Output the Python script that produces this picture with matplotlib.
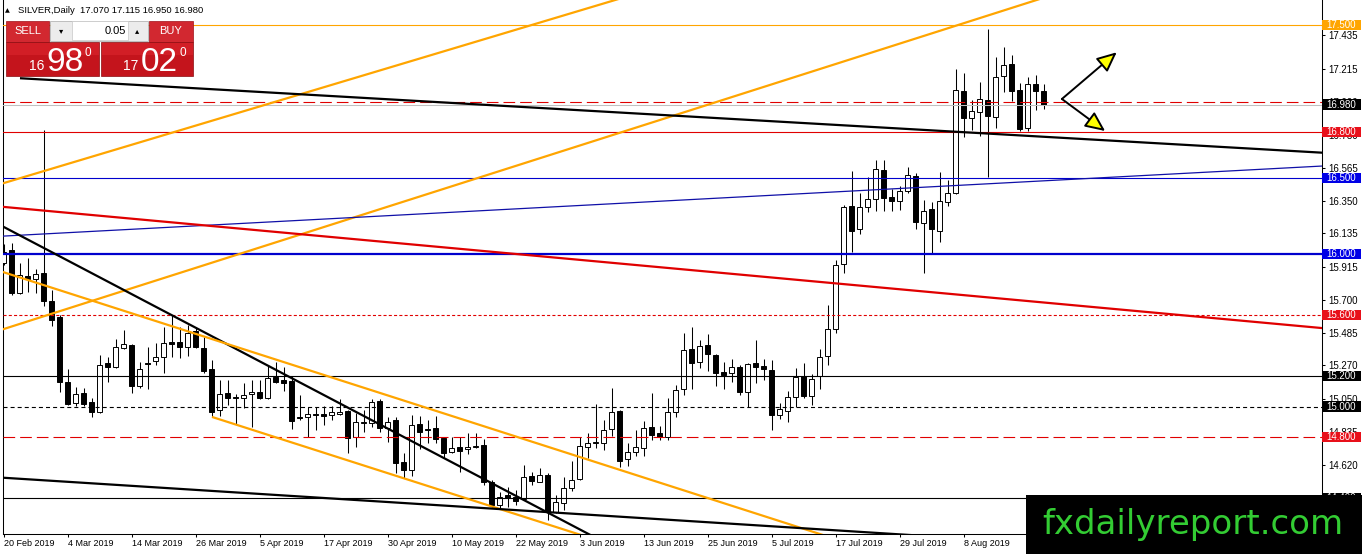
import matplotlib
matplotlib.use('Agg')
import matplotlib.pyplot as plt
import matplotlib.transforms as mtransforms
from matplotlib.patches import Rectangle
import numpy as np

plt.rcParams['font.family'] = ['Liberation Sans', 'DejaVu Sans']
plt.rcParams['lines.scale_dashes'] = False

# SILVER daily candles, 20 Feb 2019 -> 22 Aug 2019 (bar index = trading day)
opens = [15.941, 16.026, 15.744, 15.856, 15.836, 15.875, 15.692, 15.588, 15.161, 15.023,
         15.089, 15.030, 14.964, 15.286, 15.260, 15.384, 15.404, 15.135, 15.286, 15.299,
         15.325, 15.423, 15.423, 15.391, 15.496, 15.384, 15.247, 14.977, 15.089, 15.063,
         15.056, 15.082, 15.096, 15.056, 15.194, 15.174, 15.167, 14.932, 14.932, 14.951,
         14.951, 14.945, 14.948, 14.971, 14.800, 14.892, 14.892, 15.036, 14.859, 14.912,
         14.636, 14.584, 14.885, 14.853, 14.859, 14.794, 14.702, 14.735, 14.722, 14.735,
         14.748, 14.505, 14.354, 14.420, 14.407, 14.394, 14.545, 14.505, 14.551, 14.308,
         14.367, 14.466, 14.525, 14.735, 14.761, 14.761, 14.853, 14.971, 14.656, 14.702,
         14.728, 14.866, 14.826, 14.800, 14.964, 15.115, 15.378, 15.292, 15.404, 15.338,
         15.227, 15.220, 15.260, 15.096, 15.286, 15.266, 15.240, 14.945, 14.971, 15.063,
         15.200, 15.069, 15.200, 15.332, 15.509, 15.935, 16.315, 16.164, 16.308, 16.361,
         16.551, 16.374, 16.348, 16.413, 16.512, 16.203, 16.295, 16.151, 16.341, 16.400,
         17.069, 16.892, 16.931, 17.010, 16.898, 17.167, 17.246, 17.076, 16.826, 17.115,
         17.070]
highs = [16.065, 16.072, 15.941, 15.974, 15.902, 16.813, 15.764, 15.601, 15.247, 15.128,
         15.122, 15.056, 15.338, 15.325, 15.443, 15.502, 15.410, 15.292, 15.391, 15.417,
         15.522, 15.601, 15.522, 15.535, 15.522, 15.456, 15.305, 15.174, 15.174, 15.082,
         15.154, 15.174, 15.174, 15.273, 15.292, 15.260, 15.200, 15.076, 14.997, 14.997,
         15.004, 15.004, 15.050, 14.977, 14.958, 14.977, 15.050, 15.050, 14.932, 14.932,
         14.695, 14.945, 14.938, 14.912, 14.938, 14.800, 14.800, 14.800, 14.826, 14.826,
         14.787, 14.518, 14.440, 14.472, 14.453, 14.617, 14.571, 14.597, 14.564, 14.420,
         14.538, 14.643, 14.800, 14.826, 15.017, 14.912, 15.122, 14.977, 14.761, 14.846,
         14.905, 15.089, 14.872, 15.056, 15.141, 15.482, 15.522, 15.436, 15.476, 15.345,
         15.292, 15.312, 15.273, 15.286, 15.436, 15.312, 15.305, 15.023, 15.102, 15.253,
         15.286, 15.213, 15.378, 15.666, 15.961, 16.321, 16.545, 16.400, 16.505, 16.617,
         16.617, 16.427, 16.446, 16.571, 16.531, 16.354, 16.341, 16.538, 16.485, 17.214,
         17.187, 17.010, 17.128, 17.476, 17.292, 17.358, 17.305, 17.122, 17.161, 17.174,
         17.115]
lows = [15.928, 15.731, 15.738, 15.751, 15.744, 15.660, 15.528, 15.096, 15.010, 15.004,
        15.004, 14.932, 14.958, 15.161, 15.253, 15.378, 15.089, 15.122, 15.115, 15.273,
        15.220, 15.325, 15.318, 15.332, 15.384, 15.220, 14.932, 14.938, 15.010, 14.885,
        14.990, 14.866, 15.050, 15.050, 15.154, 15.102, 14.853, 14.912, 14.800, 14.846,
        14.879, 14.912, 14.945, 14.695, 14.735, 14.833, 14.866, 14.833, 14.767, 14.564,
        14.532, 14.545, 14.722, 14.761, 14.761, 14.663, 14.695, 14.571, 14.689, 14.728,
        14.485, 14.341, 14.335, 14.341, 14.354, 14.387, 14.485, 14.505, 14.256, 14.302,
        14.321, 14.446, 14.518, 14.663, 14.728, 14.715, 14.807, 14.604, 14.610, 14.676,
        14.676, 14.780, 14.780, 14.780, 14.932, 15.076, 15.115, 15.253, 15.233, 15.135,
        15.115, 15.161, 15.076, 14.997, 15.154, 15.174, 14.846, 14.918, 14.899, 14.997,
        15.056, 15.010, 15.115, 15.273, 15.482, 15.875, 16.013, 16.131, 16.276, 16.282,
        16.282, 16.282, 16.289, 16.400, 16.164, 15.875, 16.007, 16.079, 16.315, 16.395,
        16.767, 16.813, 16.774, 16.505, 16.826, 17.063, 17.004, 16.807, 16.807, 16.945,
        16.950]
closes = [16.013, 15.744, 15.862, 15.836, 15.869, 15.692, 15.568, 15.161, 15.017, 15.082,
          15.017, 14.964, 15.273, 15.260, 15.391, 15.410, 15.135, 15.247, 15.279, 15.325,
          15.417, 15.410, 15.391, 15.483, 15.391, 15.233, 14.964, 15.082, 15.056, 15.056,
          15.076, 15.096, 15.056, 15.187, 15.161, 15.154, 14.905, 14.925, 14.951, 14.945,
          14.938, 14.964, 14.964, 14.794, 14.899, 14.895, 15.030, 14.859, 14.899, 14.630,
          14.584, 14.879, 14.833, 14.846, 14.787, 14.695, 14.728, 14.709, 14.735, 14.738,
          14.505, 14.354, 14.407, 14.400, 14.381, 14.538, 14.512, 14.551, 14.308, 14.374,
          14.466, 14.518, 14.741, 14.761, 14.764, 14.846, 14.964, 14.643, 14.702, 14.735,
          14.859, 14.813, 14.800, 14.964, 15.108, 15.370, 15.286, 15.397, 15.345, 15.220,
          15.207, 15.260, 15.096, 15.279, 15.260, 15.247, 14.945, 14.984, 15.063, 15.194,
          15.069, 15.181, 15.325, 15.509, 15.928, 16.308, 16.151, 16.308, 16.361, 16.558,
          16.367, 16.348, 16.413, 16.518, 16.210, 16.282, 16.164, 16.348, 16.400, 17.076,
          16.892, 16.938, 17.017, 16.905, 17.161, 17.240, 17.069, 16.820, 17.115, 17.069,
          16.980]

date_labels = ['20 Feb 2019', '4 Mar 2019', '14 Mar 2019', '26 Mar 2019', '5 Apr 2019',
               '17 Apr 2019', '30 Apr 2019', '10 May 2019', '22 May 2019', '3 Jun 2019',
               '13 Jun 2019', '25 Jun 2019', '5 Jul 2019', '17 Jul 2019', '29 Jul 2019',
               '8 Aug 2019']
bars_per_label = 8

price_ticks = [17.435, 17.215, 17.000, 16.780, 16.565, 16.350, 16.135, 15.915, 15.700,
               15.485, 15.270, 15.050, 14.835, 14.620, 14.400]

# horizontal levels and their tag on the price scale (None = no tag)
level_prices = [17.5, 17.0, 16.8, 16.5, 16.0, 15.6, 15.2, 15.0, 14.8, 14.4]
level_tags = ['17.500', None, '16.800', '16.500', '16.000', '15.600', '15.200', '15.000',
              '14.800', '14.400']
bid = 16.980
header = 'SILVER,Daily  17.070 17.115 16.950 16.980'

# trend lines, two anchors each as (bar, price)
trend_orange_up1 = [(0.06, 16.466), (75.19, 17.646)]
trend_orange_up2 = [(0.06, 15.509), (127.94, 17.646)]
trend_black_top = [(2.06, 17.153), (164.75, 16.665)]
trend_blue = [(0.06, 16.118), (164.75, 16.577)]
trend_red = [(0.06, 16.309), (164.75, 15.515)]
trend_black_steep = [(0.06, 16.177), (69.8, 14.256)]
trend_orange_dn1 = [(-0.06, 15.882), (80.19, 14.532)]
trend_orange_dn2 = [(26.06, 14.932), (65.56, 14.269)]
trend_black_low = [(0.06, 14.533), (109.3, 14.171)]

arrow_from = (132.3, 17.017)
arrow_up_to = (139.15, 17.323)
arrow_dn_to = (137.7, 16.807)

ORANGE = '#ffa500'
RED = '#e00000'
BLUE = '#0000cd'

W, H = 1362, 554
fig = plt.figure(figsize=(W / 100, H / 100), dpi=100)
fig.patch.set_facecolor('white')

# plot frame in pixels: left 2.5, right 1321.5, top 0, bottom 533.5
ax = fig.add_axes([2.5 / W, (H - 533.5) / H, 1319 / W, 533.5 / H])
ax.set_xlim(-0.125, 164.75)
ax.set_ylim(14.1676, 17.666)

# candles
o = np.array(opens)
c = np.array(closes)
hi = np.array(highs)
lo = np.array(lows)
idx = np.arange(len(o))
up = c >= o
ax.vlines(idx, lo, hi, color='black', lw=0.75, zorder=2)
body_lo = np.minimum(o, c)
body_h = np.maximum(np.abs(c - o), 0.004)
ax.bar(idx[up], body_h[up], bottom=body_lo[up], width=0.55, color='white',
       edgecolor='black', lw=0.7, zorder=3)
ax.bar(idx[~up], body_h[~up], bottom=body_lo[~up], width=0.55, color='black',
       edgecolor='black', lw=0.7, zorder=3)


def trend(anchors, x0, x1, **kw):
    (a, pa), (b, pb) = anchors
    k = (pb - pa) / (b - a)
    ax.plot([x0, x1], [pa + k * (x0 - a), pa + k * (x1 - a)], zorder=4,
            solid_capstyle='butt', **kw)


# horizontal levels
ax.axhline(bid, color='#c0c0c0', lw=0.75, zorder=4)
ax.axhline(level_prices[0], color=ORANGE, lw=0.8, zorder=4)
ax.axhline(level_prices[1], color=RED, lw=0.8, dashes=(8.4, 3.6), zorder=4)
ax.axhline(level_prices[2], color=RED, lw=0.8, zorder=4)
ax.axhline(level_prices[3], color=BLUE, lw=0.8, zorder=4)
ax.axhline(level_prices[4], color=BLUE, lw=1.6, zorder=4)
ax.axhline(level_prices[5], color=RED, lw=0.8, dashes=(2.2, 1.6), zorder=4)
ax.axhline(level_prices[6], color='black', lw=0.8, zorder=4)
ax.axhline(level_prices[7], color='black', lw=0.8, dashes=(2.9, 2.2), zorder=4)
ax.axhline(level_prices[8], color=RED, lw=0.8, dashes=(8.4, 3.6), zorder=4)
ax.axhline(level_prices[9], color='black', lw=0.8, zorder=4)

# trend lines
trend(trend_orange_up1, -1, 90, color=ORANGE, lw=1.6)
trend(trend_orange_up2, -1, 140, color=ORANGE, lw=1.6)
trend(trend_black_top, 2.06, 166, color='black', lw=1.6)
trend(trend_blue, -1, 166, color='#1010a8', lw=0.9)
trend(trend_red, -1, 166, color=RED, lw=1.6)
trend(trend_black_steep, -1, 80, color='black', lw=1.6)
trend(trend_orange_dn1, -1, 110, color=ORANGE, lw=1.6)
trend(trend_orange_dn2, 26.06, 80, color=ORANGE, lw=1.6)
trend(trend_black_low, -1, 130, color='black', lw=1.6)

# arrows
for tip in (arrow_up_to, arrow_dn_to):
    ax.annotate('', xy=tip, xytext=arrow_from, zorder=6,
                arrowprops=dict(arrowstyle='-|>,head_length=0.55,head_width=0.25',
                                mutation_scale=22, fc='#ffff00', ec='black', lw=1.4,
                                shrinkA=0, shrinkB=0))

# axes styling
for side in ('left', 'right', 'bottom'):
    ax.spines[side].set_linewidth(0.75)
    ax.spines[side].set_color('black')
ax.spines['top'].set_visible(False)
ax.set_xticks(np.arange(len(date_labels)) * bars_per_label)
ax.set_xticklabels(date_labels, fontsize=6.5, ha='left')
ax.tick_params(axis='x', length=2.5, width=0.75, pad=1.5, direction='out')
ax.yaxis.tick_right()
ax.set_yticks(price_ticks)
ax.set_yticklabels(['%.3f' % p for p in price_ticks], fontsize=7)
ax.tick_params(axis='y', length=2.2, width=0.75, pad=2.5, direction='out')

# overlay in pixel coordinates for the price tags, trading panel and watermark
ov = fig.add_axes([0, 0, 1, 1], zorder=10)
ov.set_xlim(0, W)
ov.set_ylim(H, 0)
ov.axis('off')
ov.patch.set_visible(False)

tag_tr = mtransforms.blended_transform_factory(ov.transData, ax.transData)
tag_colors = [ORANGE, None, '#e8101a', '#0000e6', '#0000e6', '#e8101a', 'black', 'black',
              '#e8101a', 'black']
tag_h = 0.068
for p, t, col in zip(level_prices, level_tags, tag_colors):
    if t is None:
        continue
    ov.add_patch(Rectangle((1322, p - tag_h / 2), 39, tag_h, transform=tag_tr,
                           fc=col, ec='none', clip_on=False, zorder=5))
    ov.text(1341.5, p, t, transform=tag_tr, color='white', fontsize=7, ha='center',
            va='center', zorder=6)
ov.add_patch(Rectangle((1322, bid - tag_h / 2), 39, tag_h, transform=tag_tr,
                       fc='black', ec='none', clip_on=False, zorder=5))
ov.text(1341.5, bid, '%.3f' % bid, transform=tag_tr, color='white', fontsize=7,
        ha='center', va='center', zorder=6)

# header
ov.text(5, 10.5, '\u25b2', fontsize=4.5, ha='left', va='center', family='DejaVu Sans')
ov.text(18.5, 10.5, header, fontsize=6.8, ha='left', va='center')

# one-click trading panel
ov.add_patch(Rectangle((6, 20.5), 43, 21, fc='#d22830', ec='#a01018', lw=0.5))
ov.add_patch(Rectangle((149, 20.5), 44, 21, fc='#d22830', ec='#a01018', lw=0.5))
ov.text(27.5, 31, 'SELL', color='white', fontsize=8, ha='center', va='center')
ov.text(171, 31, 'BUY', color='white', fontsize=8, ha='center', va='center')
ov.add_patch(Rectangle((50, 20.5), 98, 20, fc='#ececec', ec='#a8a8a8', lw=0.5))
ov.add_patch(Rectangle((72, 21), 56, 19, fc='white', ec='#c8c8c8', lw=0.5))
ov.text(61, 30.5, '\u25be', fontsize=6, ha='center', va='center', family='DejaVu Sans')
ov.text(137.5, 30.5, '\u25b4', fontsize=6, ha='center', va='center', family='DejaVu Sans')
ov.text(126, 30.5, '0.05', fontsize=8, ha='right', va='center')
for x0, w in ((6, 93), (101, 92)):
    ov.add_patch(Rectangle((x0, 42), w, 34, fc='#c4141c', ec='#8c0c10', lw=0.5))
    ov.add_patch(Rectangle((x0 + 0.5, 42.5), w - 1, 12, fc='#d21e26', ec='none'))
ov.text(29.5, 69.5, '16', color='white', fontsize=10, ha='left', va='baseline')
ov.text(46, 71, '98', color='white', fontsize=24, ha='left', va='baseline')
ov.text(84.5, 55.5, '0', color='white', fontsize=8.5, ha='left', va='baseline')
ov.text(123.5, 69.5, '17', color='white', fontsize=10, ha='left', va='baseline')
ov.text(141, 71, '02', color='white', fontsize=24, ha='left', va='baseline')
ov.text(179, 55.5, '0', color='white', fontsize=8.5, ha='left', va='baseline')

# watermark
ov.add_patch(Rectangle((1026, 495), W - 1026, H - 495, fc='black', ec='none', zorder=20))
ov.text(1042, 534, 'fxdailyreport.com', color='#33cc33', fontsize=24.5, ha='left',
        va='baseline', family='DejaVu Sans', zorder=21)

fig.savefig('out.png', dpi=100)
